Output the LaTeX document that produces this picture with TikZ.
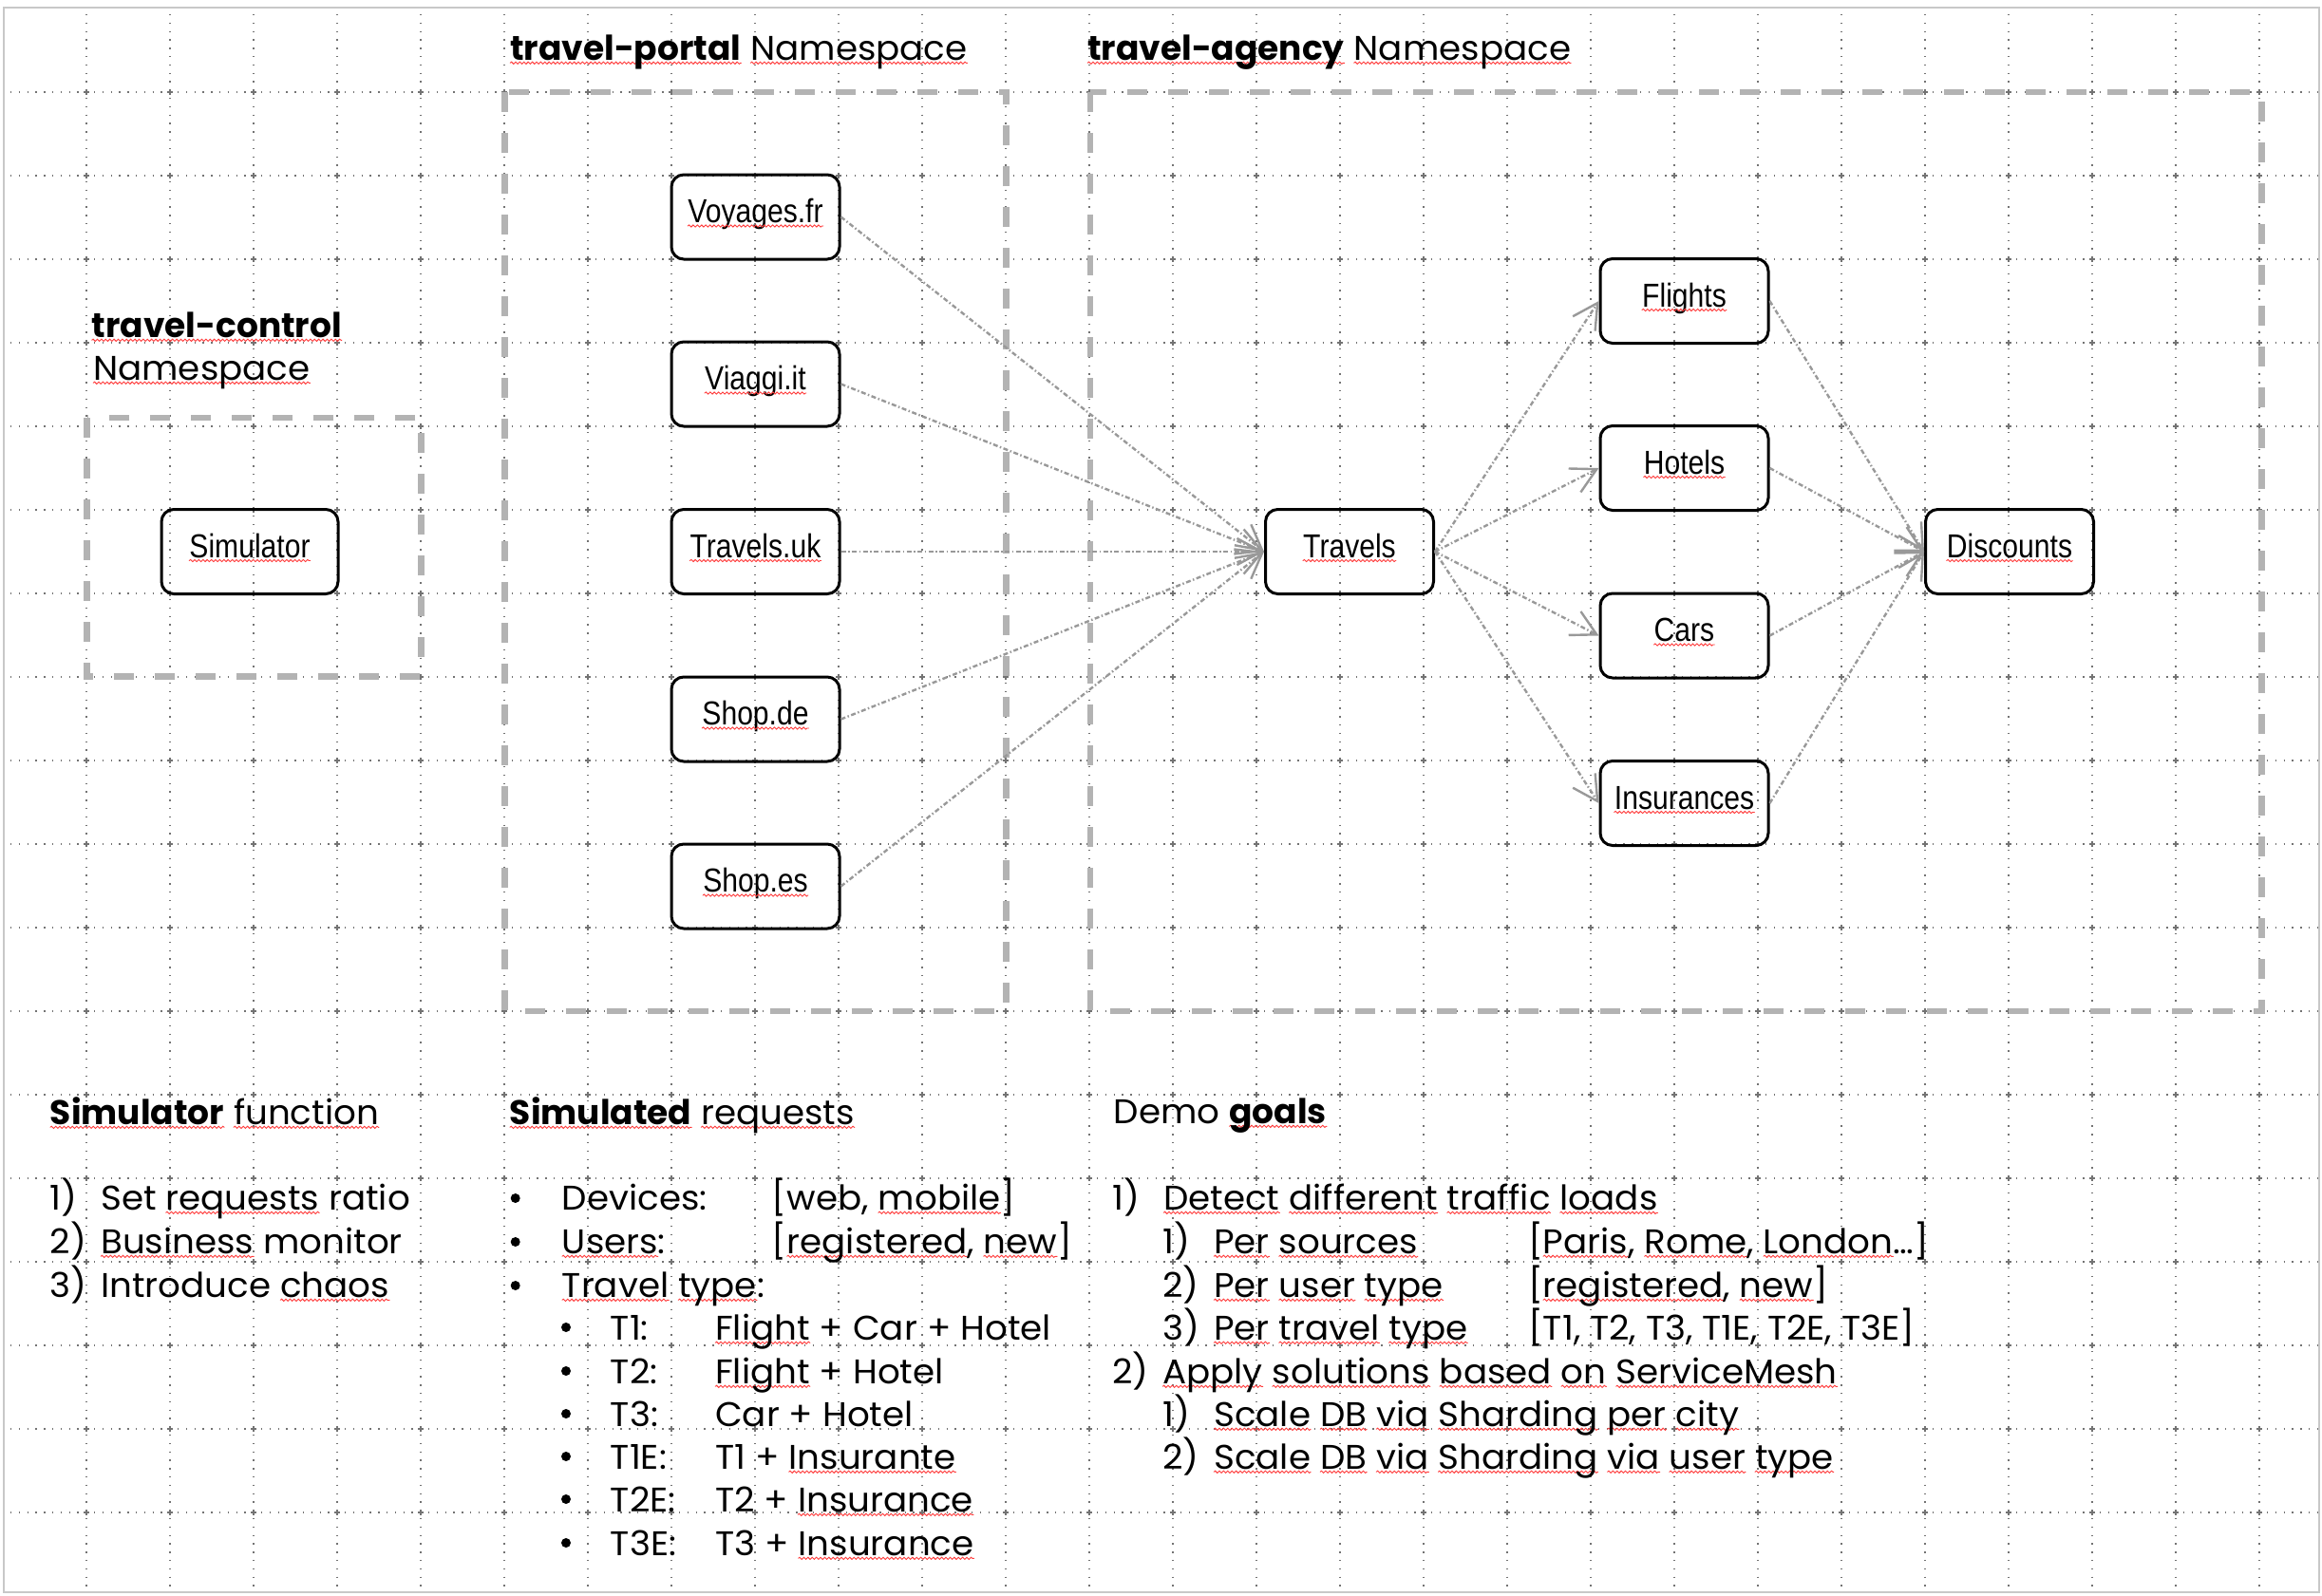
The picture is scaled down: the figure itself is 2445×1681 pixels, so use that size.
\documentclass[tikz,border=0pt]{standalone}
\usepackage{fontspec}
\usetikzlibrary{arrows.meta,decorations.pathmorphing}
\setmainfont{Poppins}[UprightFeatures={FakeStretch=1.035}]
\newfontfamily\narrowfont[FakeStretch=0.86]{Liberation Sans}
\definecolor{nsgrey}{HTML}{B3B3B3}
\definecolor{lnkgrey}{HTML}{999999}
\definecolor{spell}{HTML}{FF3B3B}
\definecolor{framegrey}{HTML}{C8C8C8}
% red wavy spell-check mark under a word
\newsavebox\wavybox
\newdimen\wavylen
\newcommand\wavy[1]{\sbox\wavybox{#1}\wavylen=\wd\wavybox
  \rlap{\tikz[overlay]{\draw[draw=spell, line width=0.9pt,
      line cap=round, sharp corners, solid, decorate,
      decoration={snake, amplitude=1.1pt, segment length=4.4pt}]
      (0pt,-3.3pt) -- (\wavylen,-3.3pt);}}%
  \usebox\wavybox}
\begin{document}
\begin{tikzpicture}[x=1pt,y=-1pt,
  svc/.style={draw=black, line width=3pt, rounded corners=13pt,
    minimum width=177pt, minimum height=89pt, inner sep=0pt},
  svclbl/.style={inner sep=0pt, text height=25pt, text depth=13pt,
    font=\narrowfont\fontsize{35}{40}\selectfont},
  wavyln/.style={draw=spell, line width=0.9pt, line cap=round, decorate,
    decoration={snake, amplitude=1.1pt, segment length=4.4pt}},
  ns/.style={draw=nsgrey, line width=6.5pt, dash pattern=on 21pt off 22pt},
  lnk/.style={draw=lnkgrey, line width=2.4pt,
    dash pattern=on 5pt off 2.5pt on 1.5pt off 2.5pt,
    -{Straight Barb[length=26pt,width=28pt,line width=2.4pt]}},
  txt/.style={anchor=base west, inner sep=0pt, font=\fontsize{36}{45}\selectfont},
  dot/.style={circle, fill=black, inner sep=0pt, minimum size=10pt},
  gridln/.style={draw=black!55, line width=1.3pt, dash pattern=on 1.3pt off 7.5pt},
  gridx/.style={draw=black!55, line width=1.2pt},
]
\useasboundingbox (0,0) rectangle (2445,1681);
\fill[white] (0,0) rectangle (2445,1681);
\draw[framegrey, line width=2pt] (3.5,8) rectangle (2442,1677);

% drawing grid
\foreach \k in {0,...,26}
  \draw[gridln] ({91+88*\k},15) -- ({91+88*\k},1677);
\foreach \j in {0,...,17}
  \draw[gridln] (11,{97+88*\j}) -- (2440,{97+88*\j});
\foreach \k in {0,...,26}
  \foreach \j in {0,...,17}
    \draw[gridx] ({88+88*\k},{97+88*\j}) -- ++(6,0)
                 ({91+88*\k},{94+88*\j}) -- ++(0,6);

% namespaces
\draw[ns] (91.7,440) rectangle (443.5,712.5);
\draw[ns] (531.5,97) rectangle (1059.5,1065);
\draw[ns] (1148,97) rectangle (2381.5,1065);

\node[txt] (ctlA) at (96.5,355) {\bfseries\wavy{travel-control}};
\node[txt] (ctlB) at (98,400) {\wavy{Namespace}};
\node[txt] (portalLbl) at (537,63) {\textbf{\wavy{travel-portal}} \wavy{Namespace}};
\node[txt] (agencyLbl) at (1145,63) {\textbf{\wavy{travel-agency}} \wavy{Namespace}};

% services: box, then its label
\node[svc, minimum width=186pt] (sim) at (263,581) {};
\node[svc] (voy) at (795.5,228.5) {};
\node[svc] (via) at (795.5,404.5) {};
\node[svc] (tuk) at (795.5,581) {};
\node[svc] (sde) at (795.5,757.5) {};
\node[svc] (ses) at (795.5,933.5) {};
\node[svc] (trv) at (1421,581) {};
\node[svc] (fli) at (1773.5,317) {};
\node[svc] (hot) at (1773.5,493) {};
\node[svc] (car) at (1773.5,669.5) {};
\node[svc] (ins) at (1773.5,846) {};
\node[svc] (dis) at (2116,581) {};
\node[svclbl] (simT) at (sim) {Simulator};
\node[svclbl] (voyT) at (voy) {Voyages.fr};
\node[svclbl] (viaT) at (via) {Viaggi.it};
\node[svclbl] (tukT) at (tuk) {Travels.uk};
\node[svclbl] (sdeT) at (sde) {Shop.de};
\node[svclbl] (sesT) at (ses) {Shop.es};
\node[svclbl] (trvT) at (trv) {Travels};
\node[svclbl] (fliT) at (fli) {Flights};
\node[svclbl] (hotT) at (hot) {Hotels};
\node[svclbl] (carT) at (car) {Cars};
\node[svclbl] (insT) at (ins) {Insurances};
\node[svclbl] (disT) at (dis) {Discounts};
\foreach \n in {simT,voyT,viaT,tukT,sdeT,sesT,trvT,fliT,hotT,carT,insT,disT}
  \draw[wavyln] ([yshift=-3.5pt]\n.base west) -- ([yshift=-3.5pt]\n.base east);

% traffic
\foreach \s in {voy,via,tuk,sde,ses}
  \draw[lnk] (\s.east) -- (trv.west);
\foreach \t in {fli,hot,car,ins}{
  \draw[lnk] (trv.east) -- (\t.west);
  \draw[lnk] (\t.east) -- (dis.west);
}

% simulator function
\node[txt] (h1) at (52.7,1184) {\textbf{\wavy{Simulator}} \wavy{function}};
\node[txt] (n11) at (52.7,1274) {1)};
\node[txt] (t11) at (106,1274) {Set \wavy{requests} ratio};
\node[txt] (n12) at (52.7,1320) {2)};
\node[txt] (t12) at (106,1320) {\wavy{Business} monitor};
\node[txt] (n13) at (52.7,1366) {3)};
\node[txt] (t13) at (106,1366) {Introduce \wavy{chaos}};

% simulated requests
\node[txt] (h2) at (536.7,1184) {\textbf{\wavy{Simulated}} \wavy{requests}};
\node[dot] (b21) at (542.7,1262) {};
\node[dot] (b22) at (542.7,1308) {};
\node[dot] (b23) at (542.7,1354) {};
\node[txt] (k21) at (591.7,1274) {Devices:};
\node[txt] (k22) at (591.7,1320) {\wavy{Users}:};
\node[txt] (k23) at (591.7,1366) {\wavy{Travel} \wavy{type}:};
\node[txt] (v21) at (812.7,1274) {[web, \wavy{mobile}]};
\node[txt] (v22) at (812.7,1320) {[\wavy{registered}, \wavy{new}]};
\node[dot] (b24) at (596,1398) {};
\node[dot] (b25) at (596,1444) {};
\node[dot] (b26) at (596,1489) {};
\node[dot] (b27) at (596,1534) {};
\node[dot] (b28) at (596,1579) {};
\node[dot] (b29) at (596,1625) {};
\node[txt] (k24) at (642.7,1411) {T1:};
\node[txt] (k25) at (642.7,1457) {T2:};
\node[txt] (k26) at (642.7,1502) {T3:};
\node[txt] (k27) at (642.7,1547) {T1E:};
\node[txt] (k28) at (642.7,1592) {T2E:};
\node[txt] (k29) at (642.7,1638) {T3E:};
\node[txt] (v24) at (753,1411) {\wavy{Flight} + Car + Hotel};
\node[txt] (v25) at (753,1457) {\wavy{Flight} + Hotel};
\node[txt] (v26) at (753,1502) {Car + Hotel};
\node[txt] (v27) at (753,1547) {T1 + \wavy{Insurante}};
\node[txt] (v28) at (753,1592) {T2 + \wavy{Insurance}};
\node[txt] (v29) at (753,1638) {T3 + \wavy{Insurance}};

% demo goals
\node[txt] (h3) at (1172.7,1183) {Demo \textbf{\wavy{goals}}};
\node[txt] (n31) at (1171,1274) {1)};
\node[txt] (t31) at (1225,1274) {\wavy{Detect} \wavy{different} \wavy{traffic} \wavy{loads}};
\node[txt] (n32) at (1224,1320) {1)};
\node[txt] (t32) at (1278,1320) {\wavy{Per} \wavy{sources}};
\node[txt] (v32) at (1609,1320) {[\wavy{Paris}, \wavy{Rome}, \wavy{London}…]};
\node[txt] (n33) at (1224,1366) {2)};
\node[txt] (t33) at (1278,1366) {\wavy{Per} \wavy{user} \wavy{type}};
\node[txt] (v33) at (1609,1366) {[\wavy{registered}, \wavy{new}]};
\node[txt] (n34) at (1224,1411) {3)};
\node[txt] (t34) at (1278,1411) {\wavy{Per} \wavy{travel} \wavy{type}};
\node[txt] (v34) at (1609,1411) {[T1, T2, T3, T1E, T2E, T3E]};
\node[txt] (n35) at (1171,1457) {2)};
\node[txt] (t35) at (1224,1457) {\wavy{Apply} \wavy{solutions} \wavy{based} \wavy{on} \wavy{ServiceMesh}};
\node[txt] (n36) at (1224,1502) {1)};
\node[txt] (t36) at (1278,1502) {\wavy{Scale} \wavy{DB} \wavy{via} \wavy{Sharding} \wavy{per} \wavy{city}};
\node[txt] (n37) at (1224,1547) {2)};
\node[txt] (t37) at (1278,1547) {\wavy{Scale} \wavy{DB} \wavy{via} \wavy{Sharding} \wavy{via} \wavy{user} \wavy{type}};
\end{tikzpicture}
\end{document}
